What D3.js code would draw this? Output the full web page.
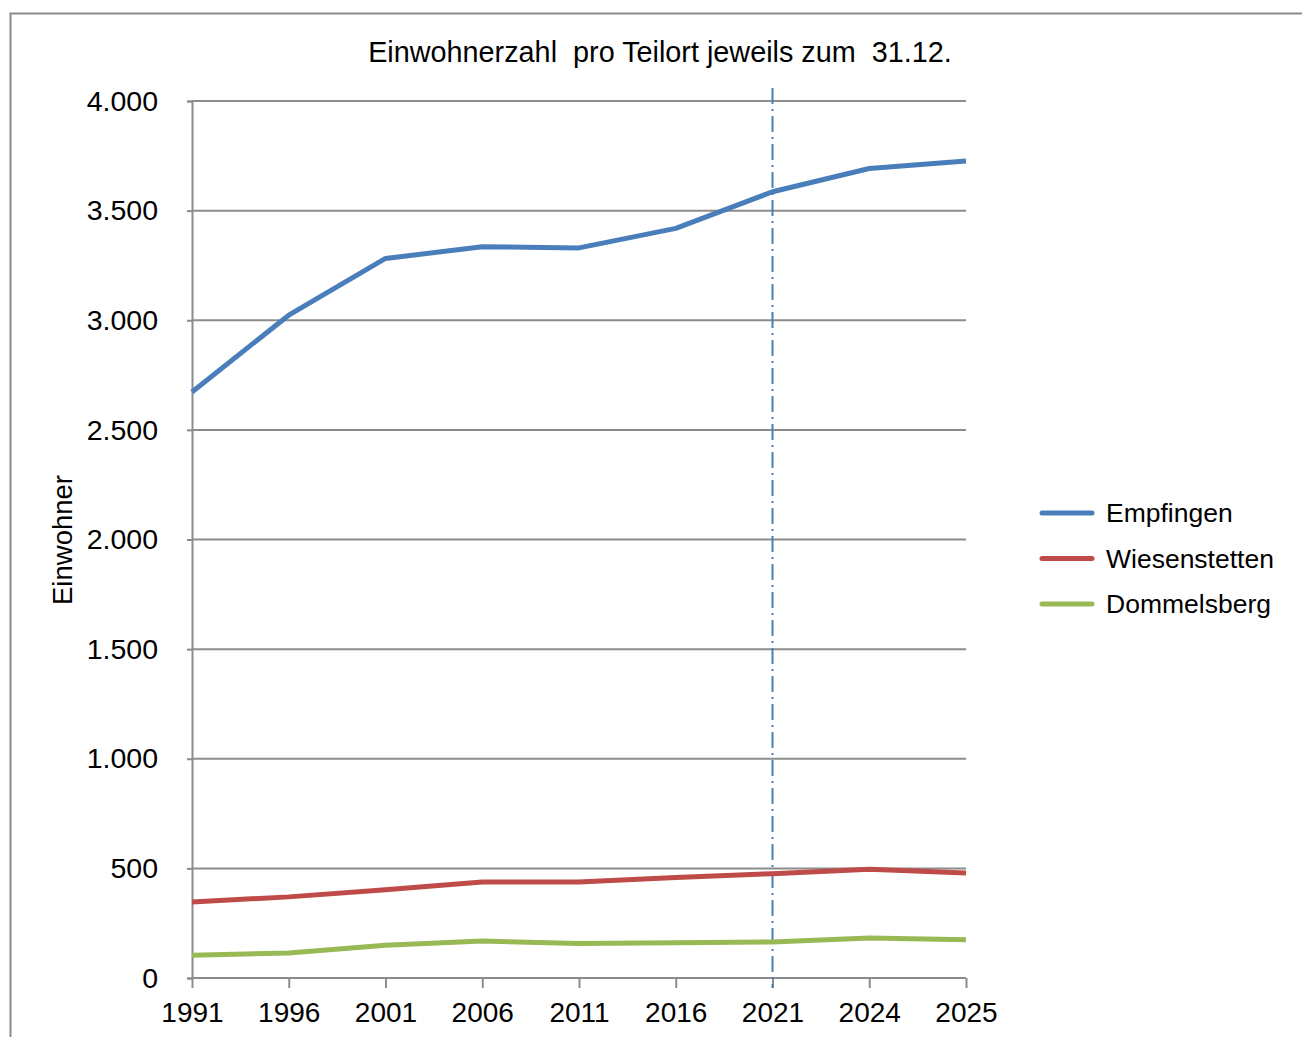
<!DOCTYPE html>
<html>
<head>
<meta charset="utf-8">
<script src="https://cdn.jsdelivr.net/npm/d3@7"></script>
<style>
  body { margin: 0; background: #fff; }
  text { font-family: "Liberation Sans", Arial, sans-serif; fill: #000; }
</style>
</head>
<body>
<script>
const w = 1302
const h = 1037

// Data
const years = ["1991", "1996", "2001", "2006", "2011", "2016", "2021", "2024", "2025"]
const empfingen = [2673, 3023, 3282, 3335, 3330, 3419, 3586, 3692, 3726]
const wiesenstetten = [347, 370, 403, 438, 438, 458, 476, 496, 479]
const dommelsberg = [104, 114, 149, 169, 157, 161, 164, 182, 175]
const seriesNames = ["Empfingen", "Wiesenstetten", "Dommelsberg"]
const yTicks = [0, 500, 1000, 1500, 2000, 2500, 3000, 3500, 4000]
const markerYear = "2021"

const colors = ["#4a7ebb", "#be4b48", "#98b954"]
const allSeries = [empfingen, wiesenstetten, dommelsberg]

const margin = { left: 192, right: 336, top: 101, bottom: 59 }

const svg = d3.select("body")
  .append("svg")
  .attr("width", w)
  .attr("height", h)

// outer frame
svg.append("path")
  .attr("d", `M10.5,${h} V13.5 H${w}`)
  .attr("fill", "none")
  .attr("stroke", "#8a8a8a")
  .attr("stroke-width", 2)

const x = d3.scalePoint()
  .domain(years)
  .range([margin.left, w - margin.right])

const y = d3.scaleLinear()
  .domain([0, 4000])
  .range([h - margin.bottom, margin.top])

const fmt = d => d === 0 ? "0" : d3.format(",")(d).replace(",", ".")

// gridlines
svg.append("g")
  .selectAll("line")
  .data(yTicks.filter(d => d > 0))
  .enter()
  .append("line")
  .attr("x1", margin.left)
  .attr("x2", w - margin.right)
  .attr("y1", d => y(d))
  .attr("y2", d => y(d))
  .attr("stroke", "#8c8c8c")
  .attr("stroke-width", 2)

// y axis
const yAxis = svg.append("g")
  .attr("transform", `translate(${margin.left}, 0)`)
  .call(d3.axisLeft(y).tickValues(yTicks).tickFormat(fmt).tickSize(5).tickPadding(29))
yAxis.select(".domain").attr("stroke", "#8c8c8c").attr("stroke-width", 2)
yAxis.selectAll(".tick line").attr("stroke", "#8c8c8c").attr("stroke-width", 2)
yAxis.selectAll(".tick text")
  .style("font-size", "28.5px")
  .style("font-family", "Liberation Sans, Arial, sans-serif")
  .attr("fill", "#000")

// x axis
const xAxis = svg.append("g")
  .attr("transform", `translate(0, ${y(0)})`)
  .call(d3.axisBottom(x).tickSize(10).tickPadding(14))
xAxis.select(".domain").attr("stroke", "#8c8c8c").attr("stroke-width", 2)
  .attr("d", `M${margin.left},0H${w - margin.right}`)
xAxis.selectAll(".tick line").attr("stroke", "#8c8c8c").attr("stroke-width", 2)
xAxis.selectAll(".tick text")
  .style("font-size", "28px")
  .style("font-family", "Liberation Sans, Arial, sans-serif")
  .attr("fill", "#000")

// vertical marker line
svg.append("line")
  .attr("x1", x(markerYear))
  .attr("x2", x(markerYear))
  .attr("y1", 88)
  .attr("y2", 988)
  .attr("stroke", "#4a7ebb")
  .attr("stroke-width", 2)
  .attr("stroke-dasharray", "16,5,2,5")

// lines
const line = d3.line()
  .x((d, i) => x(years[i]))
  .y(d => y(d))

svg.append("g")
  .selectAll("path")
  .data(allSeries)
  .enter()
  .append("path")
  .attr("d", d => line(d))
  .attr("fill", "none")
  .attr("stroke", (d, i) => colors[i])
  .attr("stroke-width", 5)
  .attr("stroke-linejoin", "round")

// title
svg.append("text")
  .attr("x", 660)
  .attr("y", 62)
  .attr("text-anchor", "middle")
  .style("font-size", "28.8px")
  .style("white-space", "pre")
  .attr("xml:space", "preserve")
  .text("Einwohnerzahl  pro Teilort jeweils zum  31.12.")

// y label
svg.append("text")
  .attr("transform", "translate(72, 540) rotate(-90)")
  .attr("text-anchor", "middle")
  .style("font-size", "27.5px")
  .text("Einwohner")

// legend
const legendItems = svg.append("g")
  .selectAll("g")
  .data(seriesNames)
  .enter()
  .append("g")
  .attr("transform", (d, i) => `translate(1040, ${513 + i * 45.5})`)

legendItems.append("line")
  .attr("x1", 2)
  .attr("x2", 52)
  .attr("stroke", (d, i) => colors[i])
  .attr("stroke-width", 5)
  .attr("stroke-linecap", "round")

legendItems.append("text")
  .attr("x", 66)
  .attr("y", 9)
  .style("font-size", "26.5px")
  .text(d => d)
</script>
</body>
</html>
